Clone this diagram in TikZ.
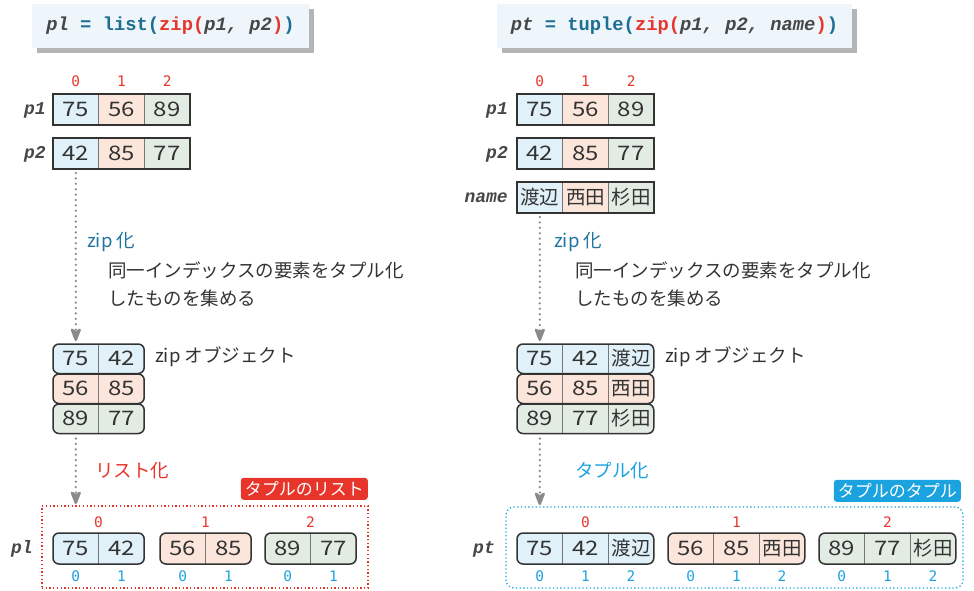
\documentclass[tikz,border=0pt]{standalone}
\usepackage{fontspec}
\setmainfont{Noto Sans CJK JP}
\newfontfamily\jpf{Noto Sans CJK JP}
\newfontfamily\numf[FakeStretch=1.2]{Noto Sans CJK JP}
\newfontfamily\codef{Liberation Mono}
\newfontfamily\idxf{DejaVu Sans Mono}
\usetikzlibrary{arrows.meta,calc,shadows}
\definecolor{cb}{HTML}{E0F1F9}
\definecolor{cp}{HTML}{FCE6DC}
\definecolor{cg}{HTML}{E3ECE2}
\definecolor{ctxt}{HTML}{333333}
\definecolor{cline}{HTML}{333333}
\definecolor{cdiv}{HTML}{777777}
\definecolor{cred}{HTML}{E8352B}
\definecolor{ccyan}{HTML}{1BA3DF}
\definecolor{cteal}{HTML}{1F74A0}
\definecolor{ckw}{HTML}{1D6E92}
\definecolor{cvar}{HTML}{474747}
\definecolor{carrow}{HTML}{8A8A8A}
\definecolor{ctitle}{HTML}{EEF6FB}
\definecolor{cshadow}{HTML}{B5B5B5}
\newcommand\jc[1]{{\jpf\fontsize{19.5}{19.5}\selectfont #1}}
\tikzset{
  acell/.style={draw=cdiv, line width=0.6pt, minimum width=45.67pt, minimum height=31pt,
    inner sep=0pt, outer sep=0pt, text height=14.3pt, text depth=0pt,
    font=\numf\fontsize{20}{20}\selectfont, text=ctxt},
  tcell/.style={inner sep=0pt, outer sep=0pt, text height=14.3pt, text depth=0pt,
    font=\numf\fontsize{20}{20}\selectfont, text=ctxt},
  outerbox/.style={draw=cline, line width=1.8pt},
  rowfill/.style={inner sep=0pt, outer sep=0pt, rounded corners=6pt},
  divline/.style={draw=cdiv, line width=0.7pt},
  ridx/.style={font=\idxf\fontsize{14.5}{14.5}\selectfont, text=cred, inner sep=0pt},
  bidx/.style={font=\idxf\fontsize{14.5}{14.5}\selectfont, text=ccyan, inner sep=0pt},
  varlabel/.style={font=\codef\bfseries\itshape\fontsize{18}{18}\selectfont, text=cvar, inner sep=0pt, anchor=east},
  note/.style={font=\jpf\fontsize{18.5}{18.5}\selectfont, text=ctxt, inner sep=0pt, anchor=west},
  dotarr/.style={draw=carrow, line width=2.5pt, line cap=round, dash pattern=on 0pt off 5.4pt,
    -{Stealth[length=17pt,width=13pt,inset=5pt,round=false]}},
  titlebox/.style={fill=ctitle, inner sep=0pt, outer sep=0pt, anchor=north west,
    drop shadow={shadow xshift=4.5pt, shadow yshift=-4.5pt, fill=cshadow, opacity=1},
    font=\codef\bfseries\fontsize{18.8}{18.8}\selectfont},
  tagbox/.style={rounded corners=3pt, inner xsep=4pt, inner ysep=0pt, minimum height=22pt,
    text=white, font=\jpf\fontsize{17}{17}\selectfont, anchor=south east},
}
\newcommand\arr[4]{%
  \foreach \txt/\col [count=\i] in {#4}{%
    \node[acell, fill=\col, anchor=north west] (#1-\i) at ({#2+(\i-1)*45.67},#3) {\txt};}
  \draw[outerbox] (#1-1.north west) rectangle (#1-3.south east);}
\newcommand\trow[7]{%
  \node[rowfill, fill=#6, anchor=north west, minimum width={#4*45.6pt}, minimum height=#5pt] (#1) at (#2,#3) {};
  \foreach \txt [count=\i] in {#7}{%
    \node[tcell] (#1-\i) at ([xshift={(\i-0.5)*45.6pt}]#1.west) {\txt};}
  \foreach \i in {2,...,#4}{%
    \draw[divline] ([xshift={(\i-1)*45.6pt}]#1.north west) -- ([xshift={(\i-1)*45.6pt}]#1.south west);}
  \draw[outerbox, line width=1.5pt, rounded corners=6pt] (#1.north west) rectangle (#1.south east);}
\begin{document}
\begin{tikzpicture}[x=1pt,y=-1pt]
\useasboundingbox (0,0) rectangle (974,590);
% titles
\node[titlebox, minimum width=277pt, minimum height=44pt] (tl) at (32,4)
  {{\color{cvar}\itshape pl} {\color{ckw}= list(}{\color{cred}zip(}{\color{cvar}\itshape p1, p2}{\color{cred})}{\color{ckw})}};
\node[titlebox, minimum width=355pt, minimum height=44pt] (tr) at (497,4)
  {{\color{cvar}\itshape pt} {\color{ckw}= tuple(}{\color{cred}zip(}{\color{cvar}\itshape p1, p2, name}{\color{cred})}{\color{ckw})}};
% ===== left =====
\arr{lp1}{53}{94}{75/cb,56/cp,89/cg}
\arr{lp2}{53}{138}{42/cb,85/cp,77/cg}
\node[varlabel] (llp1) at (46,110) {p1};
\node[varlabel] (llp2) at (46,154) {p2};
\node[ridx] (li0) at ([yshift=13pt]lp1-1.north) {0};
\node[ridx] (li1) at ([yshift=13pt]lp1-2.north) {1};
\node[ridx] (li2) at ([yshift=13pt]lp1-3.north) {2};
\trow{lz1}{53}{344}{2}{29.5}{cb}{75,42}
\trow{lz2}{53}{374}{2}{29.5}{cp}{56,85}
\trow{lz3}{53}{404}{2}{29.5}{cg}{89,77}
\node[note] (lzo) at (155,357) {zip オブジェクト};
\draw[dotarr] ([yshift=-4pt]lp2-1.south) -- ($(lz1-1 |- lz1.north)+(0,-3)$);
\node[note, text=cteal] (lzk) at (87,242) {zip 化};
\node[note] (ln1) at (108,270) {同一インデックスの要素をタプル化};
\node[note] (ln2) at (108,298) {したものを集める};
% list
\node[draw=cred, line width=1.3pt, dash pattern=on 1.3pt off 2.4pt, minimum width=326pt, minimum height=82pt,
  anchor=north west, inner sep=0pt, outer sep=0pt] (lst) at (42,506) {};
\node[tagbox, fill=cred] (ltag) at ($(lst.north east)+(0,-6)$) {タプルのリスト};
\draw[dotarr] ($(lz3-1 |- lz3.south)+(0,5)$) -- ($(lz3-1 |- lst.north)+(0,-2)$);
\node[note, text=cred] (llk) at (95,471) {リスト化};
\trow{lt1}{53}{533}{2}{31}{cb}{75,42}
\trow{lt2}{160}{533}{2}{31}{cp}{56,85}
\trow{lt3}{265}{533}{2}{31}{cg}{89,77}
\node[varlabel] (lpl) at (33,549) {pl};
\node[ridx] (lt1i) at ([yshift=11pt]lt1.north) {0};
\node[ridx] (lt2i) at ([yshift=11pt]lt2.north) {1};
\node[ridx] (lt3i) at ([yshift=11pt]lt3.north) {2};
\foreach \b in {lt1,lt2,lt3}{
  \node[bidx] (\b-i0) at ($(\b-1 |- \b.south)+(0,12)$) {0};
  \node[bidx] (\b-i1) at ($(\b-2 |- \b.south)+(0,12)$) {1};
}
% ===== right =====
\arr{rp1}{517}{94}{75/cb,56/cp,89/cg}
\arr{rp2}{517}{138}{42/cb,85/cp,77/cg}
\arr{rnm}{517}{182}{\jc{渡辺}/cb,\jc{西田}/cp,\jc{杉田}/cg}
\node[varlabel] (rlp1) at (508,110) {p1};
\node[varlabel] (rlp2) at (508,154) {p2};
\node[varlabel] (rlnm) at (508,198) {name};
\node[ridx] (ri0) at ([yshift=13pt]rp1-1.north) {0};
\node[ridx] (ri1) at ([yshift=13pt]rp1-2.north) {1};
\node[ridx] (ri2) at ([yshift=13pt]rp1-3.north) {2};
\trow{rz1}{517}{344}{3}{29.5}{cb}{75,42,\jc{渡辺}}
\trow{rz2}{517}{374}{3}{29.5}{cp}{56,85,\jc{西田}}
\trow{rz3}{517}{404}{3}{29.5}{cg}{89,77,\jc{杉田}}
\node[note] (rzo) at (665,357) {zip オブジェクト};
\draw[dotarr] ([yshift=-4pt]rnm-1.south) -- ($(rz1-1 |- rz1.north)+(0,-3)$);
\node[note, text=cteal] (rzk) at (554,242) {zip 化};
\node[note] (rn1) at (575,270) {同一インデックスの要素をタプル化};
\node[note] (rn2) at (575,298) {したものを集める};
% tuple
\node[draw=ccyan, line width=1.3pt, dash pattern=on 1.3pt off 2.4pt, rounded corners=8pt, minimum width=457pt, minimum height=81pt,
  anchor=north west, inner sep=0pt, outer sep=0pt] (tpl) at (506,507) {};
\node[tagbox, fill=ccyan] (rtag) at ($(tpl.north east)+(-2,-5)$) {タプルのタプル};
\draw[dotarr] ($(rz3-1 |- rz3.south)+(0,5)$) -- ($(rz3-1 |- tpl.north)+(0,-2)$);
\node[note, text=ccyan] (rtk) at (575,471) {タプル化};
\trow{rt1}{517}{533}{3}{31}{cb}{75,42,\jc{渡辺}}
\trow{rt2}{668}{533}{3}{31}{cp}{56,85,\jc{西田}}
\trow{rt3}{819}{533}{3}{31}{cg}{89,77,\jc{杉田}}
\node[varlabel] (rpt) at (495,549) {pt};
\node[ridx] (rt1i) at ([yshift=11pt]rt1.north) {0};
\node[ridx] (rt2i) at ([yshift=11pt]rt2.north) {1};
\node[ridx] (rt3i) at ([yshift=11pt]rt3.north) {2};
\foreach \b in {rt1,rt2,rt3}{
  \node[bidx] (\b-i0) at ($(\b-1 |- \b.south)+(0,12)$) {0};
  \node[bidx] (\b-i1) at ($(\b-2 |- \b.south)+(0,12)$) {1};
  \node[bidx] (\b-i2) at ($(\b-3 |- \b.south)+(0,12)$) {2};
}
\end{tikzpicture}
\end{document}
